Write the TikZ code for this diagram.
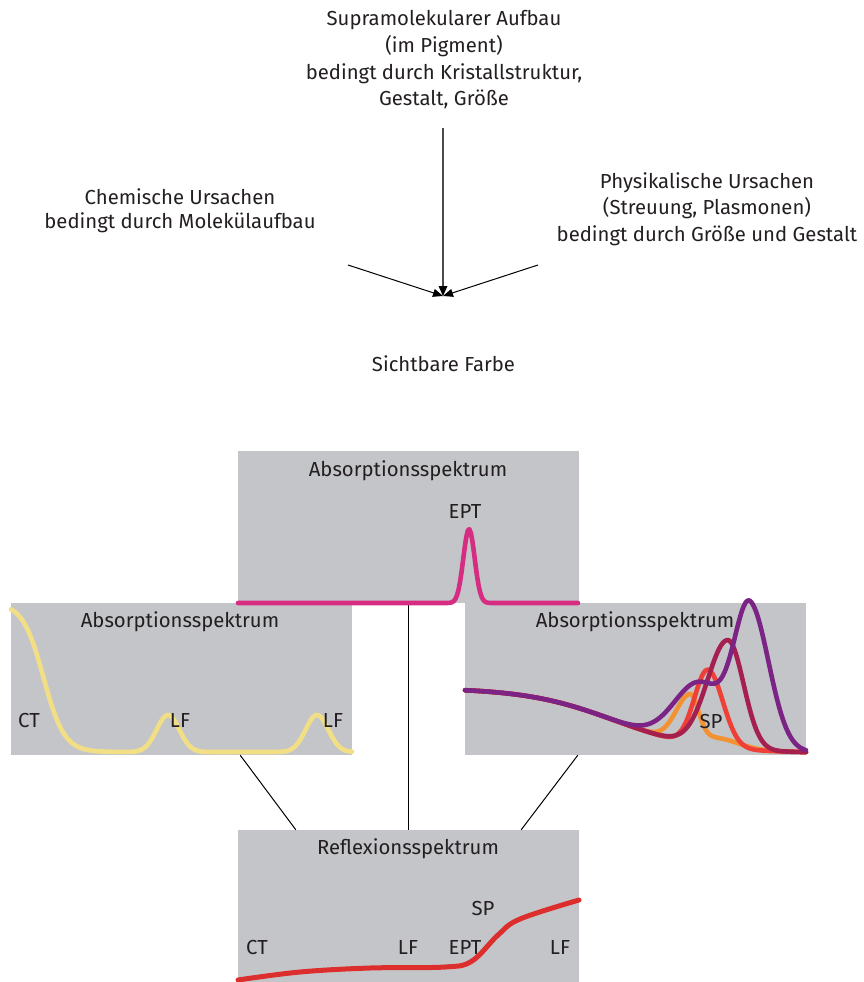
\documentclass[tikz,border=0pt]{standalone}
\usepackage{fontspec}
\setmainfont{Fira Sans}
\usetikzlibrary{arrows.meta,calc}
\definecolor{boxgray}{HTML}{C4C5C9}
\definecolor{txt}{HTML}{231F20}
\definecolor{pinkc}{HTML}{D62C82}
\definecolor{yellowc}{HTML}{F2DE85}
\definecolor{orangec}{HTML}{F39233}
\definecolor{redc}{HTML}{EE4036}
\definecolor{darkredc}{HTML}{A6204F}
\definecolor{purplec}{HTML}{7B2485}
\definecolor{reflc}{HTML}{DD2E2E}
\begin{document}
\begin{tikzpicture}[x=1pt,y=-1pt,
  every node/.style={text=txt,inner sep=0pt},
  big/.style={font=\fontsize{20.3pt}{26.7pt}\selectfont,align=center},
  lbl/.style={font=\fontsize{20.3pt}{24pt}\selectfont},
  panel/.style={rectangle,fill=boxgray,minimum width=341pt,minimum height=152pt},
  conn/.style={draw=black,line width=1pt},
  arr/.style={line width=1pt,-{Triangle[length=10pt,width=8pt]}},
  spec/.style={line width=4.6pt,line cap=round,line join=round},
  declare function={
    gs(\t,\c,\s)=exp(max(-9,-((\t-\c)/\s)^2));
    gsa(\t,\c,\l,\r)=exp(max(-9,-((\t-\c)/ifthenelse(\t<\c,\l,\r))^2));
    base(\t)=753-65/(1+exp((\t-615)/45));
    ct(\t)=603+149/(1+exp(max(-9,-(\t-43.5)/10.4)));
  }]
\useasboundingbox (0,0) rectangle (863,982);

% top texts
\node[big] (supra) at (444,60) {Supramolekularer Aufbau\\(im Pigment)\\bedingt durch Kristallstruktur,\\Gestalt, Größe};
\node[big,font=\fontsize{20.3pt}{24pt}\selectfont] (chem) at (180,211) {Chemische Ursachen\\bedingt durch Molekülaufbau};
\node[big] (phys) at (707,209) {Physikalische Ursachen\\(Streuung, Plasmonen)\\bedingt durch Größe und Gestalt};
\node[big] (farbe) at (443.5,364) {Sichtbare Farbe};

\coordinate (vs) at (443,128);
\coordinate (ls) at (348,265);
\coordinate (rs) at (538,265);
\coordinate (tip) at (443,296);
\draw[line width=2pt,draw=black!70] (vs) -- ($(tip)+(0,-8)$);
\fill[black] (tip) -- ++(-4.5,-10) -- ++(9,0) -- cycle;
\draw[arr] (ls) -- (tip);
\draw[arr] (rs) -- (tip);

% panels
\node[panel] (boxA) at (408.5,527) {};
\node[panel] (boxL) at (181.5,679) {};
\node[panel] (boxR) at (635.5,679) {};
\node[panel,minimum height=160pt] (boxB) at (408.5,910) {};

% connectors
\draw[conn] (boxA.south) -- (boxB.north);
\draw[conn] ($(boxL.south west)!0.672!(boxL.south east)$) -- ($(boxB.north west)!0.17!(boxB.north east)$);
\draw[conn] ($(boxR.south west)!0.331!(boxR.south east)$) -- ($(boxB.north west)!0.83!(boxB.north east)$);

% titles
\node[lbl] (tA) at (408,471) {Absorptionsspektrum};
\node[lbl] (tL) at (180,622) {Absorptionsspektrum};
\node[lbl] (tR) at (635,622) {Absorptionsspektrum};
\node[lbl] (tB) at (408,849) {Reflexionsspektrum};

% curves
\draw[spec,pinkc] plot[domain=238:578,samples=220] (\x,{603-74*gs(\x,469,8)});
\draw[spec,yellowc] plot[domain=11:352,samples=220] (\x,{ct(\x)-37*gs(\x,168,16)-37*gs(\x,317,16)});
\draw[spec,orangec] plot[domain=465:806,samples=220] (\x,{base(\x)-45*gsa(\x,690,20,12)-9*gs(\x,718,30)});
\draw[spec,redc] plot[domain=465:806,samples=220] (\x,{base(\x)-76*gsa(\x,708,19,21)});
\draw[spec,darkredc] plot[domain=465:806,samples=220] (\x,{base(\x)-108*gsa(\x,728,29,22)});
\draw[spec,purplec] plot[domain=465:806,samples=220] (\x,{base(\x)-62*gs(\x,700,36)-140*gsa(\x,750,22,27)});
\draw[spec,reflc,line width=5pt] plot[smooth,tension=0.6] coordinates {(238,980) (300,972) (370,968) (445,967) (472,961) (498,935) (520,919) (579,900)};

% labels
\node[lbl] (ept1) at (465,512) {EPT};
\node[lbl] (ct1) at (29,720) {CT};
\node[lbl] (lf1) at (180,720) {LF};
\node[lbl] (lf2) at (333,720) {LF};
\node[lbl] (sp1) at (711,721) {SP};
\node[lbl] (sp2) at (483,908) {SP};
\node[lbl] (ct2) at (257,947) {CT};
\node[lbl] (lf3) at (408,947) {LF};
\node[lbl] (ept2) at (465,947) {EPT};
\node[lbl] (lf4) at (560,947) {LF};
\end{tikzpicture}
\end{document}
